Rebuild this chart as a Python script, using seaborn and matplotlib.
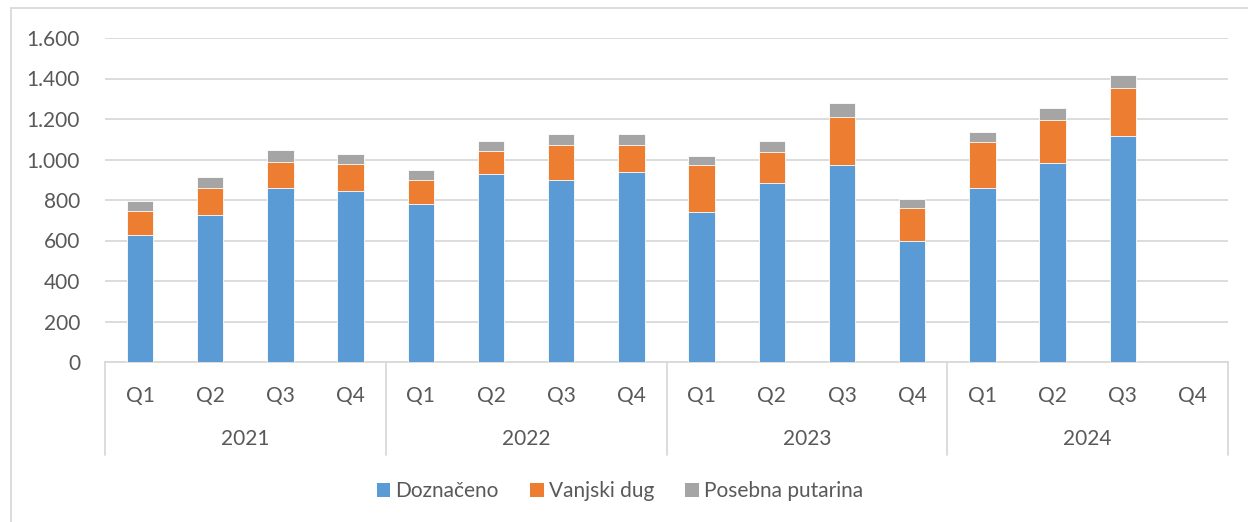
import numpy as np
import pandas as pd
import matplotlib
matplotlib.use("Agg")
import matplotlib.pyplot as plt
from matplotlib.patches import Patch
from matplotlib.lines import Line2D
import seaborn as sns

years = ["2021", "2022", "2023", "2024"]
quarters = ["Q1", "Q2", "Q3", "Q4"]
doznaceno = [629, 728, 861, 846, 782, 927, 900, 940, 742, 886, 974, 596, 858, 983, 1116, np.nan]
vanjski_dug = [115, 133, 127, 132, 117, 115, 170, 132, 231, 153, 236, 166, 227, 212, 237, np.nan]
posebna_putarina = [49, 54, 61, 49, 51, 51, 58, 52, 46, 54, 67, 41, 52, 58, 66, np.nan]
series_names = ["Doznačeno", "Vanjski dug", "Posebna putarina"]
colors = ["#5B9BD5", "#ED7D31", "#A5A5A5"]
yticks = [0, 200, 400, 600, 800, 1000, 1200, 1400, 1600]

sns.set_theme(style="white")
plt.rcParams["font.family"] = ["Lato", "DejaVu Sans"]

cats = [f"{y} {q}" for y in years for q in quarters]
df = pd.DataFrame({
    "cat": cats,
    "d": doznaceno,
    "v": vanjski_dug,
    "p": posebna_putarina,
})
df["c1"] = df["d"]
df["c2"] = df["d"] + df["v"]
df["c3"] = df["d"] + df["v"] + df["p"]

W, H = 1248, 522
FS = 15
fig = plt.figure(figsize=(W / 100, H / 100), dpi=100)
ax = fig.add_axes([105 / W, 1 - 362 / H, (1228 - 105) / W, (362 - 38) / H])

for col, c in zip(["c3", "c2", "c1"], colors[::-1]):
    sub = df.dropna(subset=[col])
    sns.barplot(data=sub, x="cat", y=col, order=cats, color=c, ax=ax,
                width=0.375, edgecolor="white", linewidth=0.6, saturation=1, zorder=3)

ax.set_ylim(0, 1600)
ax.set_xlim(-0.5, 15.5)
ax.set_yticks(yticks)
ax.set_yticklabels([f"{v:,}".replace(",", ".") for v in yticks])
ax.yaxis.grid(True, color="#d9d9d9", linewidth=1.3, zorder=0)
ax.set_axisbelow(True)
for s in ["left", "right", "top"]:
    ax.spines[s].set_visible(False)
ax.spines["bottom"].set_color("#d9d9d9")
ax.spines["bottom"].set_linewidth(1.3)
ax.set_xlabel("")
ax.set_ylabel("")
ax.set_xticks(range(16))
ax.set_xticklabels(quarters * 4)
ax.tick_params(axis="x", length=0, pad=17, labelsize=FS, labelcolor="#595959")
ax.tick_params(axis="y", length=0, pad=18, labelsize=FS, labelcolor="#595959")

# year group separators and labels
for xb in [-0.5, 3.5, 7.5, 11.5, 15.5]:
    ax.add_line(Line2D([xb, xb], [0, -93 / 324], transform=ax.get_xaxis_transform(),
                       color="#d9d9d9", linewidth=1.3, clip_on=False))
for i, y in enumerate(years):
    ax.text(i * 4 + 1.5, -77 / 324, y, transform=ax.get_xaxis_transform(),
            ha="center", va="center", fontsize=FS, color="#595959")

# chart area border (left and top)
fig.add_artist(Line2D([11 / W, 11 / W], [0, 1 - 8 / H], transform=fig.transFigure,
                      color="#d9d9d9", linewidth=1.3))
fig.add_artist(Line2D([11 / W, 1], [1 - 8 / H, 1 - 8 / H], transform=fig.transFigure,
                      color="#d9d9d9", linewidth=1.3))

handles = [Patch(facecolor=c, edgecolor="none", label=n) for c, n in zip(colors, series_names)]
leg = fig.legend(handles=handles, loc="center", bbox_to_anchor=(620 / W, 1 - 491 / H),
                 ncol=3, frameon=False, fontsize=FS, handlelength=0.65, handleheight=0.65,
                 handletextpad=0.25, columnspacing=1.5, labelcolor="#595959")

fig.savefig("out.png", dpi=100, facecolor="white")
